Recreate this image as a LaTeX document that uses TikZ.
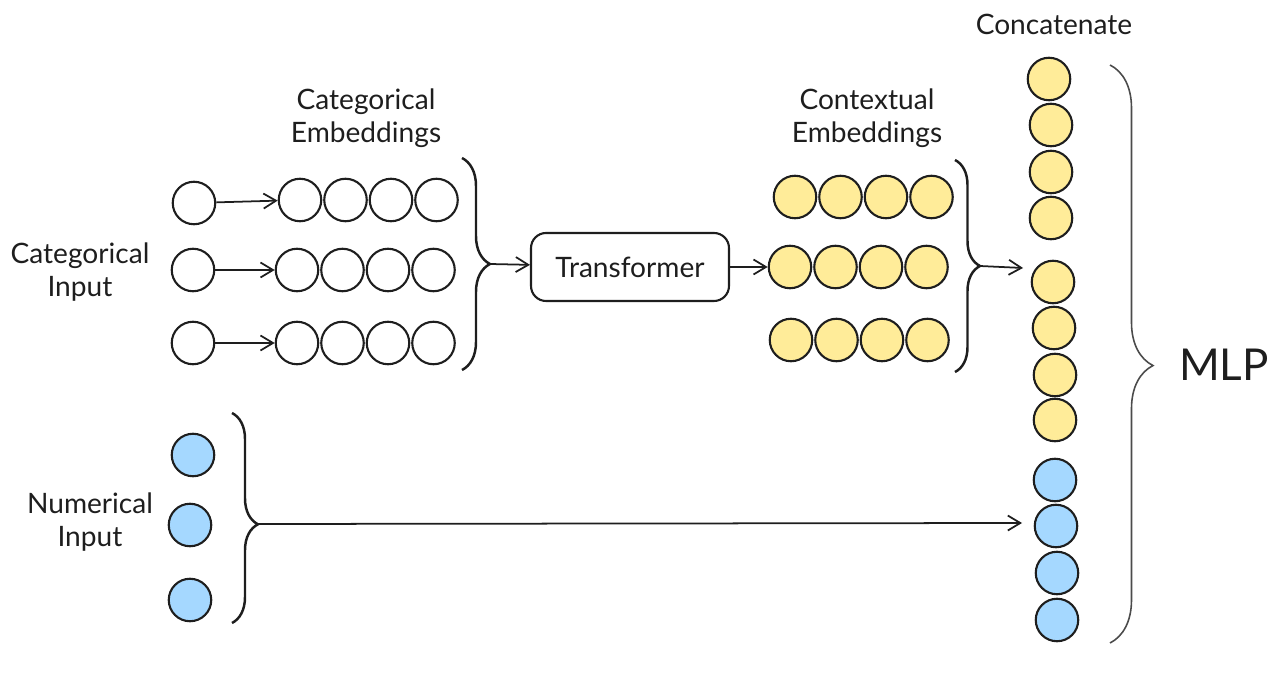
\documentclass[tikz,border=0pt]{standalone}
\usepackage{fontspec}
\setmainfont{Lato}
\usetikzlibrary{arrows.meta,decorations.pathreplacing}
\definecolor{ink}{HTML}{1E1E1E}
\definecolor{catyellow}{HTML}{FFEC99}
\definecolor{numblue}{HTML}{A5D8FF}

\begin{document}
\begin{tikzpicture}[x=0.02cm, y=-0.02cm, >={Straight Barb[length=2.5mm, width=3mm]}]
    \tikzset{unit/.style = {shape=circle, draw=ink, line width=1.2pt, minimum size=0.85cm, inner sep=0pt}}
    \tikzset{link/.style = {draw=ink, line width=1pt, ->}}
    \tikzset{bracket/.style = {draw=ink, line width=1.4pt, decorate, decoration={brace, amplitude=#1}}}
    \tikzset{caption/.style = {text=ink, align=center, font=\fontsize{16}{18.7}\selectfont}}
    \useasboundingbox (0,0) rectangle (1275,675);

    % categorical input and embeddings
    \foreach \i/\x/\y in {1/194/203, 2/193/270, 3/193/343}
        \node[unit] (in\i) at (\x,\y) {};
    \foreach \i/\x/\y in {1/300/200, 2/297/270, 3/297/343}
        \foreach \j in {1,...,4}
            \node[unit] (e\i\j) at ({\x+45.5*(\j-1)},\y) {};

    % contextual embeddings
    \foreach \i/\x/\y in {1/795/197, 2/790/267, 3/791/340}
        \foreach \j in {1,...,4}
            \node[unit, fill=catyellow] (y\i\j) at ({\x+45.5*(\j-1)},\y) {};

    % numerical input
    \foreach \i/\x/\y in {1/193/455, 2/190/525, 3/190/600}
        \node[unit, fill=numblue] (n\i) at (\x,\y) {};

    % concatenated column
    \foreach \k/\x/\y in {1/1049/79, 2/1051/125, 3/1051/172, 4/1051/218, 5/1053/282, 6/1054/328, 7/1055/375, 8/1055/420}
        \node[unit, fill=catyellow] (c\k) at (\x,\y) {};
    \foreach \k/\x/\y in {9/1055/480, 10/1056/526, 11/1057/573, 12/1057/620}
        \node[unit, fill=numblue] (c\k) at (\x,\y) {};

    \node[draw=ink, line width=1.2pt, rounded corners=0.3cm, minimum width=3.96cm, minimum height=1.36cm, caption] (tr) at (630,267) {Transformer};

    % labels
    \node[caption] (catLbl) at (80,272) {Categorical\\Input};
    \node[caption] (embLbl) at (366,118) {Categorical\\Embeddings};
    \node[caption] (ctxLbl) at (867,118) {Contextual\\Embeddings};
    \node[caption] (numLbl) at (90,522) {Numerical\\Input};
    \node[caption] (catHead) at (1054,24) {Concatenate};
    \node[text=ink, font=\fontsize{25}{30}\selectfont] (mlp) at (1224,365) {MLP};

    % braces
    \draw[bracket=0.56cm] (462,158) -- (462,370);
    \draw[bracket=0.5cm] (955,160) -- (955,372);
    \draw[bracket=0.52cm, decoration={aspect=0.53}] (232,413) -- (232,623);
    \draw[bracket=0.86cm, decoration={aspect=0.52}, line width=0.9pt, draw=ink!80] (1110,65) -- (1110,643);
    \coordinate (embTip) at (490,264);
    \coordinate (ctxTip) at (980,266);
    \coordinate (numTip) at (258,524);
    \coordinate (catIn) at (1023,268);
    \coordinate (numIn) at (1022,523);

    % edges
    \draw[link] (in1) -- (e11);
    \draw[link] (in2) -- (e21);
    \draw[link] (in3) -- (e31);
    \draw[link] (embTip) -- (tr);
    \draw[link] (tr) -- (y21);
    \draw[link] (ctxTip) -- (catIn);
    \draw[link] (numTip) -- (numIn);
\end{tikzpicture}
\end{document}
